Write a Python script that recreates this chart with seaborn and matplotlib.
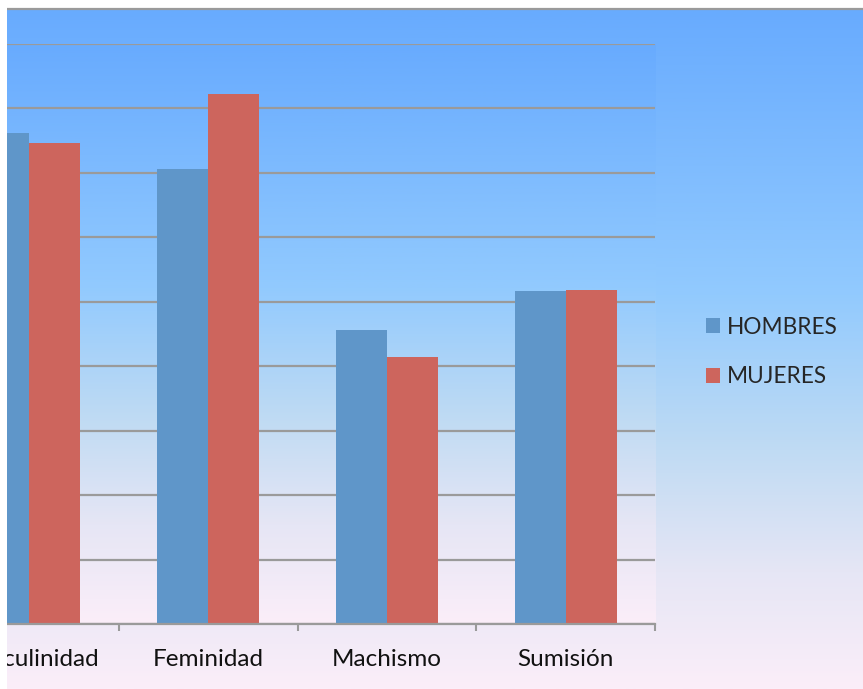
import numpy as np
import pandas as pd
import matplotlib
matplotlib.use("Agg")
import matplotlib.pyplot as plt
from matplotlib.colors import LinearSegmentedColormap
from matplotlib.patches import Rectangle
from matplotlib.lines import Line2D
import seaborn as sns

categories = ["Masculinidad", "Feminidad", "Machismo", "Sumisión"]
series_names = ["HOMBRES", "MUJERES"]
hombres = [3.81, 3.53, 2.28, 2.58]
mujeres = [3.73, 4.11, 2.07, 2.59]
y_ticks = [0, 0.5, 1.0, 1.5, 2.0, 2.5, 3.0, 3.5, 4.0, 4.5]

df = pd.DataFrame({
    "cat": categories * 2,
    "serie": [series_names[0]] * 4 + [series_names[1]] * 4,
    "valor": hombres + mujeres,
})

sns.set_theme(style="white")
plt.rcParams['font.family'] = ['Lato', 'DejaVu Sans']

W, H = 863, 689
fig = plt.figure(figsize=(W / 100, H / 100), dpi=100)
fig.patch.set_facecolor("white")

cmap = LinearSegmentedColormap.from_list("bg", [
    (0.0, "#68abfe"), (0.42, "#92cafe"), (0.65, "#c0dbf3"),
    (0.83, "#e6e6f5"), (1.0, "#fbeef9")])
grad = np.linspace(0, 1, 256).reshape(-1, 1)

# chart area background
bg = fig.add_axes([7 / W, 0, (W - 7) / W, (H - 9) / H], zorder=-5)
bg.imshow(grad, aspect="auto", cmap=cmap, extent=[0, 1, 0, 1], origin="upper")
bg.set_axis_off()
fig.add_artist(Line2D([7 / W, 1], [(H - 9) / H] * 2, color="#9a9a9a", lw=1.6,
                      transform=fig.transFigure, zorder=5))

# plot area
left_px, right_px, top_px, base_px = 7, 655, 44, 624
ax = fig.add_axes([left_px / W, (H - base_px) / H, (right_px - left_px) / W,
                   (base_px - top_px) / H])
ax.imshow(grad, aspect="auto", cmap=cmap, extent=[0, 1, 0, 1], origin="upper",
          transform=ax.transAxes, zorder=0)

sns.barplot(data=df, x="cat", y="valor", hue="serie", order=categories,
            hue_order=series_names, palette=["#5f96c9", "#cd655d"],
            width=0.57, saturation=1, ax=ax, zorder=3, linewidth=0)

ax.set_xlim(-(29.5 - 7) / 179, 3.5)
ax.set_ylim(0, 4.5)
ax.set_yticks(y_ticks)
ax.grid(axis="y", color="#9a9a9a", lw=1.6)
ax.set_axisbelow(False)
for gl in ax.get_ygridlines():
    gl.set_zorder(1)
ax.tick_params(axis="y", left=False, labelleft=False)
ax.set_xticks(range(4))
ax.set_xticklabels(categories)
ax.set_xticks([0.5, 1.5, 2.5, 3.5], minor=True)
ax.tick_params(axis="x", which="major", length=0, pad=18, labelsize=17.5,
               labelcolor="#111111")
ax.tick_params(axis="x", which="minor", length=5, width=1.5, color="#9a9a9a",
               bottom=True, direction="out")
ax.set_xlabel("")
ax.set_ylabel("")
for s in ["top", "left", "right"]:
    ax.spines[s].set_visible(False)
ax.spines["bottom"].set_color("#9a9a9a")
ax.spines["bottom"].set_linewidth(1.6)
ax.spines["bottom"].set_zorder(4)
ax.set_facecolor("none")

handles, labels = ax.get_legend_handles_labels()
ax.legend(handles, labels, loc="center left",
          bbox_to_anchor=(697 / W, (H - 352) / H), bbox_transform=fig.transFigure,
          frameon=False, fontsize=16.3, handlelength=0.62, handleheight=0.62,
          handletextpad=0.3, labelspacing=1.28, borderaxespad=0)

# white strip on the left where the chart area is cut
fig.add_artist(Rectangle((0, 0), 7 / W, 1, transform=fig.transFigure,
                         facecolor="white", edgecolor="none", zorder=20))

fig.savefig("out.png", dpi=100)
